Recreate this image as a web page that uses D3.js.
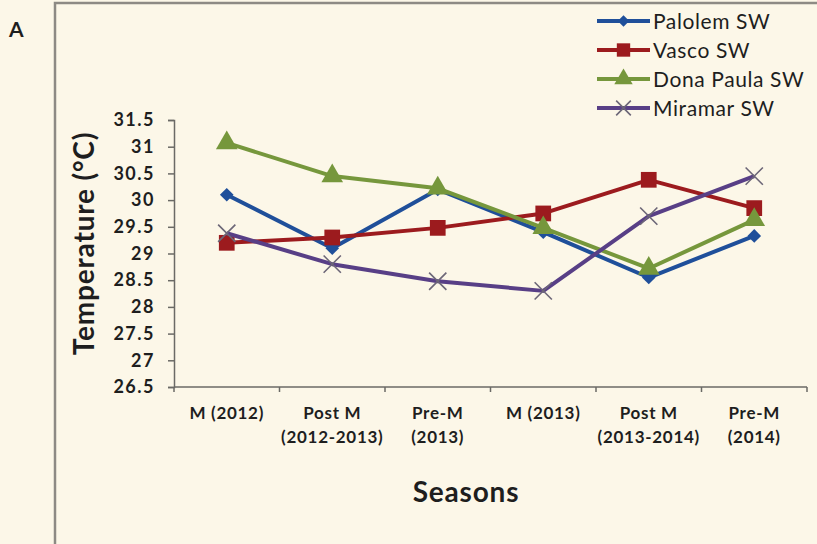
<!DOCTYPE html>
<html>
<head>
<meta charset="utf-8">
<script src="https://cdn.jsdelivr.net/npm/d3@7"></script>
<style>
  html, body { margin: 0; padding: 0; background: #fcf7e8; }
  svg { display: block; }
  text { font-family: Lato, "Open Sans", sans-serif; fill: #1e1e1e; }
</style>
</head>
<body>
<svg id="chart" width="817" height="544"></svg>
<script>
// Seasons on the x axis (two-line labels)
const seasons = [
  ["M (2012)"],
  ["Post M", "(2012-2013)"],
  ["Pre-M", "(2013)"],
  ["M (2013)"],
  ["Post M", "(2013-2014)"],
  ["Pre-M", "(2014)"]
];
const seriesNames = ["Palolem SW", "Vasco SW", "Dona Paula SW", "Miramar SW"];

// Surface water temperature (°C) per season
const palolem   = [30.1, 29.1, 30.2, 29.4, 28.55, 29.33];
const vasco     = [29.2, 29.3, 29.48, 29.75, 30.38, 29.85];
const donaPaula = [31.07, 30.45, 30.22, 29.48, 28.72, 29.63];
const miramar   = [29.38, 28.8, 28.48, 28.3, 29.7, 30.45];

const yTicks = [26.5, 27, 27.5, 28, 28.5, 29, 29.5, 30, 30.5, 31, 31.5];

const colors  = ["#1f4f9a", "#9c1b1e", "#76973c", "#583f86"];
const markers = ["diamond", "square", "triangle", "cross"];
const values  = [palolem, vasco, donaPaula, miramar];

const svg = d3.select("#chart");
const axisColor = "#6b6a66";

// Outer panel frame
svg.append("rect")
  .attr("x", 55).attr("y", 3)
  .attr("width", 800).attr("height", 600)
  .attr("fill", "none").attr("stroke", "#8d8a84").attr("stroke-width", 2.5);

svg.append("text")
  .attr("x", 9).attr("y", 37)
  .attr("font-size", 21).attr("font-weight", 700)
  .text("A");

const plot = { left: 174, right: 807, top: 120, bottom: 387 };

const x = d3.scaleBand()
  .domain(d3.range(seasons.length))
  .range([plot.left, plot.right])
  .padding(0);
const cx = i => x(i) + x.bandwidth() / 2;

const y = d3.scaleLinear()
  .domain([26.5, 31.5])
  .range([plot.bottom, plot.top]);

// Y axis
const yAxis = svg.append("g")
  .attr("transform", `translate(${plot.left},0)`)
  .call(d3.axisLeft(y).tickValues(yTicks).tickSize(6).tickPadding(13)
    .tickFormat(d => String(d)));
yAxis.select(".domain").attr("stroke", axisColor).attr("stroke-width", 1.5);
yAxis.selectAll(".tick line").attr("stroke", axisColor).attr("stroke-width", 1.5);
yAxis.selectAll(".tick text")
  .attr("font-size", 18).attr("font-weight", 700)
  .attr("letter-spacing", 1.5)
  .attr("fill", "#2a2a2a")
  .style("font-family", "Lato, sans-serif");

// X axis: line plus ticks at category boundaries
const xg = svg.append("g");
xg.append("line")
  .attr("x1", plot.left).attr("x2", plot.right)
  .attr("y1", plot.bottom).attr("y2", plot.bottom)
  .attr("stroke", axisColor).attr("stroke-width", 1.5);
const bounds = d3.range(seasons.length + 1).map(i =>
  i < seasons.length ? x(i) : x(i - 1) + x.bandwidth());
xg.selectAll("line.tk").data(bounds).join("line")
  .attr("class", "tk")
  .attr("x1", d => d).attr("x2", d => d)
  .attr("y1", plot.bottom).attr("y2", plot.bottom + 5)
  .attr("stroke", axisColor).attr("stroke-width", 1.5);

const xl = xg.selectAll("text.xl").data(seasons).join("text")
  .attr("class", "xl")
  .attr("x", (d, i) => cx(i))
  .attr("y", 419)
  .attr("text-anchor", "middle")
  .attr("font-size", 17).attr("font-weight", 700)
  .attr("letter-spacing", 0.7)
  .attr("fill", "#2a2a2a");
xl.selectAll("tspan").data(d => d).join("tspan")
  .attr("x", function () { return this.parentNode.getAttribute("x"); })
  .attr("dy", (d, j) => j === 0 ? 0 : 24)
  .text(d => d);

// Axis titles
svg.append("text")
  .attr("x", 466)
  .attr("y", 502)
  .attr("text-anchor", "middle")
  .attr("font-size", 28).attr("font-weight", 700)
  .attr("letter-spacing", 0.8)
  .text("Seasons");

svg.append("text")
  .attr("transform", `translate(94,${(plot.top + plot.bottom) / 2 - 10}) rotate(-90)`)
  .attr("text-anchor", "middle")
  .attr("font-size", 28).attr("font-weight", 700)
  .attr("letter-spacing", 0.8)
  .text("Temperature (°C)");

// Marker drawing helper
function drawMarker(g, type, color, size) {
  if (type === "diamond") {
    g.append("path").attr("d", d3.symbol(d3.symbolSquare, size * size * 0.55)())
      .attr("transform", "rotate(45)")
      .attr("fill", color);
  } else if (type === "square") {
    g.append("path").attr("d", d3.symbol(d3.symbolSquare, size * size * 1.1)())
      .attr("fill", color);
  } else if (type === "triangle") {
    g.append("path").attr("d", d3.symbol(d3.symbolTriangle, size * size * 0.9)())
      .attr("fill", color);
  } else {
    g.append("path").attr("d", d3.symbol(d3.symbolX, size * size * 1.0)())
      .attr("fill", "none").attr("stroke", "#6c6677").attr("stroke-width", 1.6);
  }
}

const line = d3.line().x((d, i) => cx(i)).y(d => y(d));
const markerSize = [13, 15, 15, 14];

values.forEach((vals, s) => {
  const g = svg.append("g");
  g.append("path")
    .datum(vals)
    .attr("d", line)
    .attr("fill", "none")
    .attr("stroke", colors[s])
    .attr("stroke-width", 4)
    .attr("stroke-linejoin", "round");
  vals.forEach((v, i) => {
    const m = g.append("g").attr("transform", `translate(${cx(i)},${y(v)})`);
    drawMarker(m, markers[s], colors[s], markerSize[s]);
  });
});

// Legend
const legend = svg.append("g");
seriesNames.forEach((name, s) => {
  const ly = 21 + s * 29;
  const g = legend.append("g");
  g.append("line")
    .attr("x1", 597).attr("x2", 650)
    .attr("y1", ly).attr("y2", ly)
    .attr("stroke", colors[s]).attr("stroke-width", 4);
  const m = g.append("g").attr("transform", `translate(623.5,${ly})`);
  drawMarker(m, markers[s], colors[s], markerSize[s] * 0.85);
  g.append("text")
    .attr("x", 653).attr("y", ly + 7.5)
    .attr("font-size", 21)
    .attr("letter-spacing", 0.6)
    .attr("fill", "#1e1e1e")
    .text(name);
});
</script>
</body>
</html>
